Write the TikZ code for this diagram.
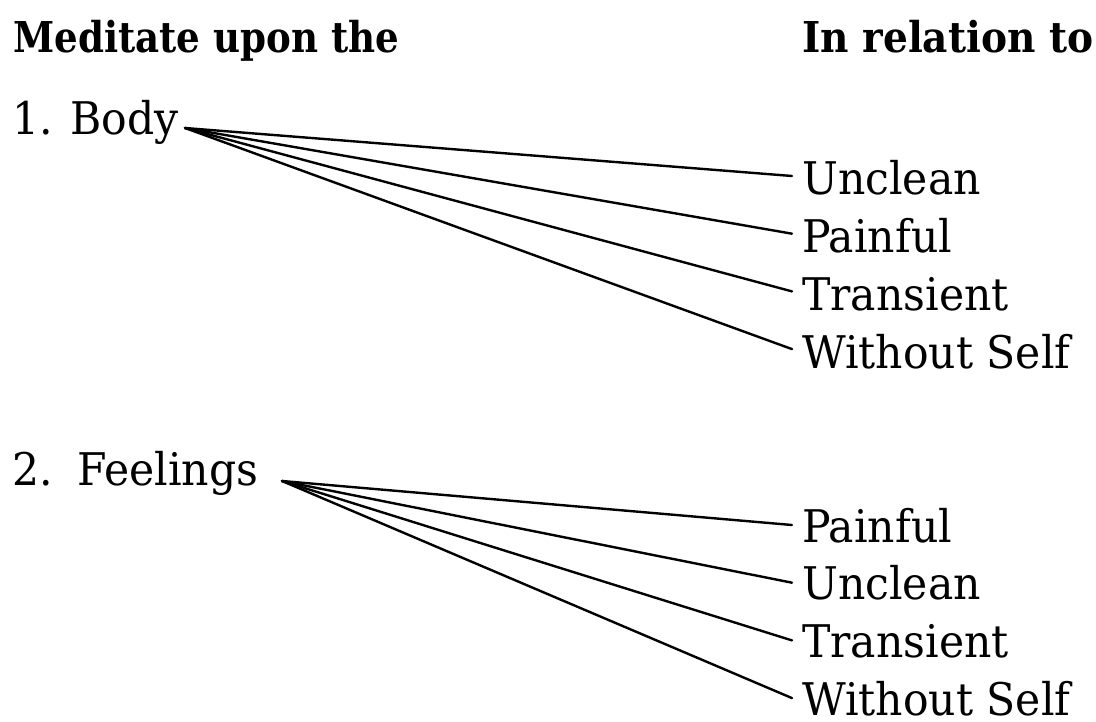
\documentclass[tikz,border=0pt]{standalone}
\usepackage{fontspec}
\setmainfont{DejaVu Serif}[FakeStretch=0.945, BoldFeatures={FakeStretch=0.875}]
\newfontfamily\headtwo{DejaVu Serif}[FakeStretch=0.92, BoldFeatures={FakeStretch=0.92}]
\begin{document}
\begin{tikzpicture}[x=1pt,y=-1pt,
  txt/.style={anchor=base west,inner sep=0pt,font=\fontsize{45}{54}\selectfont},
  head/.style={anchor=base west,inner sep=0pt,font=\fontsize{42.5}{50}\selectfont\bfseries},
  conn/.style={line width=2.4pt,line cap=round}]
\useasboundingbox (0,0) rectangle (1096,722);
\node[head] (h1) at (13,53) {Meditate upon the};
\node[head,font=\fontsize{42.5}{50}\selectfont\headtwo\bfseries] (h2) at (802,53) {In relation to};
\node[txt] (n1) at (12,135) {1.};
\node[txt] (b) at (70,135) {Body};
\node[txt] (n2) at (12,485) {2.};
\node[txt] (f) at (77,485) {Feelings};
\coordinate (bo) at (185,128);
\coordinate (fo) at (282,481);
\foreach \t [count=\i] in {Unclean,Painful,Transient,Without Self}{
  \node[txt] (a\i) at (802,{195+57.7*(\i-1)}) {\t};
  \draw[conn] (bo) -- ([xshift=-10pt,yshift=19pt]a\i.base west);
}
\foreach \t [count=\i] in {Painful,Unclean,Transient,Without Self}{
  \node[txt] (c\i) at (802,{542+57.7*(\i-1)}) {\t};
  \draw[conn] (fo) -- ([xshift=-10pt,yshift=17pt]c\i.base west);
}
\end{tikzpicture}
\end{document}
